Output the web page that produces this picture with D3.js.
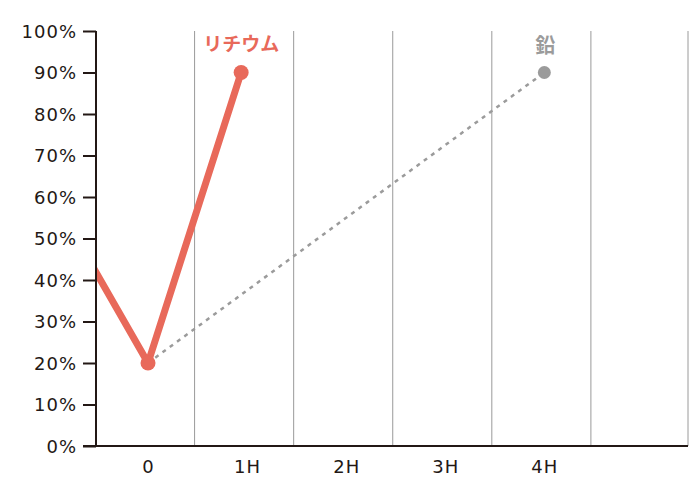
<!DOCTYPE html>
<html><head><meta charset="utf-8">
<script src="https://cdn.jsdelivr.net/npm/d3@7"></script>
<style>
body{margin:0;background:#fff;}
svg text{font-family:"DejaVu Sans",sans-serif;}
</style></head>
<body><svg id="c" width="700" height="503"></svg>
<script>
// data
const categories = ["0","1H","2H","3H","4H",""];
const yTicks = [0,10,20,30,40,50,60,70,80,90,100];
const lithiumT = [-0.6, 0, 0.94];
const lithiumV = [45, 20, 90];
const leadT = [0, 4];
const leadV = [20, 90];
const seriesNames = ["リチウム","鉛"];

const svg = d3.select("#c");
const x = d3.scaleLinear().domain([-0.525, 5.45]).range([96, 688]);
const y = d3.scaleLinear().domain([0, 100]).range([446, 31]);
const axisColor = "#231815";

// gridlines
svg.append("g").selectAll("line").data(categories.map((c,i)=>i+0.47))
  .enter().append("line")
  .attr("x1", d=>Math.min(x(d),688)).attr("x2", d=>Math.min(x(d),688))
  .attr("y1", y(100)).attr("y2", y(0))
  .attr("stroke", "#9a9a9a").attr("stroke-width", 1);

// y axis
const yAxis = d3.axisLeft(y).tickValues(yTicks).tickFormat(d=>d+"%").tickSize(13).tickPadding(6);
const gy = svg.append("g").attr("transform","translate(96,0)").call(yAxis);
gy.select(".domain").attr("stroke", axisColor).attr("stroke-width", 2).attr("d", `M0,${y(100)}V${y(0)}`);
gy.selectAll(".tick line").attr("stroke", axisColor).attr("stroke-width", 2);
gy.selectAll(".tick text").attr("fill", axisColor).style("font-size","18px").style("letter-spacing","1px").attr("dy","0.35em");

// x axis
const xAxis = d3.axisBottom(x).tickValues(categories.map((c,i)=>i)).tickFormat((d,i)=>categories[i]).tickSize(0).tickPadding(14);
const gx = svg.append("g").attr("transform",`translate(0,${y(0)})`).call(xAxis);
gx.select(".domain").attr("stroke", axisColor).attr("stroke-width", 2).attr("d", `M83,0H688`);
gx.selectAll(".tick text").attr("fill", axisColor).style("font-size","18px").style("letter-spacing","1px");

// clip
svg.append("clipPath").attr("id","clip").append("rect")
  .attr("x", 97).attr("y", 0).attr("width", 600).attr("height", 446);

const line = d3.line().x(d=>x(d[0])).y(d=>y(d[1]));
const leadColor = "#9b9b9b";
const liColor = "#e8695a";

// lead
svg.append("path").datum(leadT.map((t,i)=>[t,leadV[i]]))
  .attr("d", line).attr("fill","none").attr("stroke",leadColor)
  .attr("stroke-width",2.5).attr("stroke-dasharray","4,5");
svg.append("circle").attr("cx", x(leadT[1])).attr("cy", y(leadV[1])).attr("r",6.5).attr("fill",leadColor);

// lithium
svg.append("path").datum(lithiumT.map((t,i)=>[t,lithiumV[i]]))
  .attr("clip-path","url(#clip)")
  .attr("d", line).attr("fill","none").attr("stroke",liColor)
  .attr("stroke-width",7).attr("stroke-linejoin","round");
svg.append("circle").attr("cx", x(lithiumT[1])).attr("cy", y(lithiumV[1])).attr("r",7.5).attr("fill",liColor);
svg.append("circle").attr("cx", x(lithiumT[2])).attr("cy", y(lithiumV[2])).attr("r",7.5).attr("fill",liColor);

// labels
svg.append("text").attr("x", x(lithiumT[2])).attr("y", 51).attr("text-anchor","middle")
  .style("font-family","'Noto Sans CJK JP'").style("font-weight","bold").style("font-size","19px")
  .attr("fill", liColor).text(seriesNames[0]);
svg.append("text").attr("x", x(leadT[1])+1).attr("y", 53).attr("text-anchor","middle")
  .style("font-family","'Noto Sans CJK JP'").style("font-weight","bold").style("font-size","20px")
  .attr("fill", leadColor).text(seriesNames[1]);
</script></body></html>
